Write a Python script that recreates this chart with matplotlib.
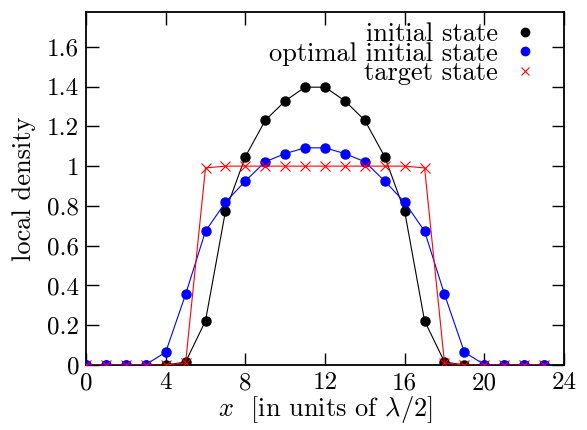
import matplotlib
matplotlib.use("Agg")
import matplotlib.pyplot as plt
from matplotlib.lines import Line2D
from matplotlib.ticker import FuncFormatter

plt.rcParams['font.family'] = 'serif'
plt.rcParams['font.serif'] = ['cmr10']
plt.rcParams['mathtext.fontset'] = 'cm'
plt.rcParams['axes.unicode_minus'] = False

x = list(range(24))
initial = [0, 0, 0, 0, 0, 0.015, 0.222, 0.772, 1.047, 1.23, 1.328, 1.397,
           1.397, 1.328, 1.23, 1.047, 0.772, 0.222, 0.015, 0, 0, 0, 0, 0]
optimal = [0, 0, 0, 0.002, 0.064, 0.355, 0.673, 0.818, 0.925, 1.022, 1.063, 1.092,
           1.092, 1.063, 1.022, 0.925, 0.818, 0.673, 0.355, 0.064, 0.002, 0, 0, 0]
target = [0, 0, 0, 0, 0, 0.01, 0.991, 1.0, 1.0, 1.0, 1.0, 1.0,
          1.0, 1.0, 1.0, 1.0, 1.0, 0.991, 0.01, 0, 0, 0, 0, 0]
labels = ["initial state", "optimal initial state", "target state"]
xticks = [0, 4, 8, 12, 16, 20, 24]
yticks = [0, 0.2, 0.4, 0.6, 0.8, 1.0, 1.2, 1.4, 1.6]

fig = plt.figure(figsize=(5.87, 4.30), dpi=100)
ax = fig.add_axes([86/587, 1-365/430, (564-86)/587, (365-12)/430])

ax.plot(x, initial, color='black', lw=0.8, marker='o', ms=6.5, zorder=3)
ax.plot(x, optimal, color='blue', lw=0.8, marker='o', ms=6.5, zorder=4)
ax.plot(x, target, color='red', lw=0.8, marker='x', ms=6.5, mew=0.8, zorder=5)

ax.set_xlim(0, 24)
ax.set_ylim(0, 1.775)
ax.set_xticks(xticks)
ax.set_yticks(yticks)
ax.yaxis.set_major_formatter(FuncFormatter(lambda v, p: f"{v:g}"))
ax.tick_params(direction='in', length=9, width=1, top=True, right=True,
               labelsize=18, pad=5)
for s in ax.spines.values():
    s.set_linewidth(1.3)

ax.set_xlabel(r"$x$  [in units of $\lambda/2$]", fontsize=19, labelpad=0)
ax.set_ylabel("local density", fontsize=19, labelpad=8)

handles = [Line2D([], [], color='black', marker='o', ls='none', ms=6),
           Line2D([], [], color='blue', marker='o', ls='none', ms=6),
           Line2D([], [], color='red', marker='x', ls='none', ms=6, mew=0.8)]
ax.legend(handles, labels, loc='upper right', frameon=False, markerfirst=False,
          fontsize=19, labelspacing=-0.17, handletextpad=0.55, handlelength=1.0,
          borderaxespad=0.0, bbox_to_anchor=(0.969, 1.0))

fig.savefig("out.png", dpi=100)
